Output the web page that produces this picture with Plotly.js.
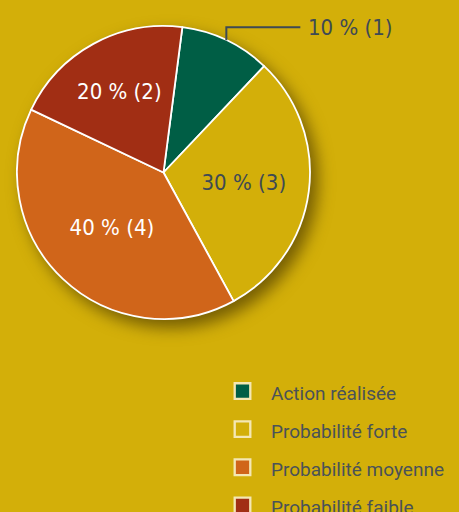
<!DOCTYPE html>
<html>
<head>
<meta charset="utf-8">
<script src="https://cdn.plot.ly/plotly-3.0.1.min.js"></script>
<style>
html,body{margin:0;padding:0;background:#D3AF09;}
#chart{width:459px;height:512px;}
#chart .pielayer .trace:first-child{filter:drop-shadow(7px 8px 8px rgba(55,40,0,0.6));}
#chart .legend .legendpoints{transform-box:fill-box;transform-origin:center;transform:scale(1.3);}
#chart .legend path.legendpie{stroke:#F4E7B4 !important;}
</style>
</head>
<body>
<div id="chart"></div>
<script>
const labels = ["Action réalisée", "Probabilité forte", "Probabilité moyenne", "Probabilité faible"];
const values = [1, 3, 4, 2];
const colors = ["#005E45", "#D3AF09", "#D0651A", "#A12E14"];
const textColors = ["#3E4A54", "#3E4A54", "#FFFFFF", "#FFFFFF"];

const W = 459, H = 512;
const pieBox = {x0: 17, x1: 310, y0: 26, y1: 319};   // pixel box of the pie domain
const rotation = 7.4;
const labelFont = "DejaVu Sans Condensed, sans-serif";

const total = values.reduce((a, b) => a + b, 0);
const texts = values.map(v => Math.round(v / total * 100) + " % (" + v + ")");
const legendLabels = labels.map(l => '<span style="font-size:19px;baseline-shift:2px">' + l + '</span>');

const domain = {x: [pieBox.x0 / W, pieBox.x1 / W], y: [1 - pieBox.y1 / H, 1 - pieBox.y0 / H]};

const slices = {
  type: "pie",
  labels: legendLabels,
  values: values,
  textinfo: "none",
  sort: false,
  direction: "clockwise",
  rotation: rotation,
  marker: {colors: colors, line: {color: "#FFFFFF", width: 1.8}},
  domain: domain,
  hoverinfo: "none"
};

// first slice is labelled outside with a leader line; others inside
const textLayer = {
  type: "pie",
  labels: legendLabels,
  values: values,
  text: texts,
  textinfo: "text",
  textposition: ["none", "inside", "inside", "inside"],
  insidetextorientation: "horizontal",
  sort: false,
  direction: "clockwise",
  rotation: rotation,
  marker: {colors: values.map(() => "rgba(0,0,0,0)"), line: {width: 0}},
  textfont: {family: labelFont, size: 22, color: textColors},
  domain: domain,
  showlegend: false,
  hoverinfo: "none"
};

// leader line from the middle of the first slice's arc
const cx = (pieBox.x0 + pieBox.x1) / 2, cy = (pieBox.y0 + pieBox.y1) / 2;
const r = Math.min(pieBox.x1 - pieBox.x0, pieBox.y1 - pieBox.y0) / 2;
const midAng = (rotation + 360 * (values[0] / 2) / total) * Math.PI / 180;
const px = cx + r * Math.sin(midAng), py = cy - r * Math.cos(midAng);
const elbowY = py - 13, lineEndX = px + 74;
const toPX = x => x / W, toPY = y => 1 - y / H;

const layout = {
  width: W,
  height: H,
  margin: {l: 0, r: 0, t: 0, b: 0, autoexpand: false},
  paper_bgcolor: "#D3AF09",
  plot_bgcolor: "#D3AF09",
  showlegend: true,
  legend: {
    x: 214 / W, xanchor: "left",
    y: 1 - 367 / H, yanchor: "top",
    bgcolor: "rgba(0,0,0,0)",
    itemwidth: 47,
    font: {family: "Roboto, sans-serif", size: 27, color: "#4A5258"},
    traceorder: "normal"
  },
  shapes: [{
    type: "path", xref: "paper", yref: "paper",
    path: "M" + toPX(px) + "," + toPY(py) + " L" + toPX(px) + "," + toPY(elbowY) + " L" + toPX(lineEndX) + "," + toPY(elbowY),
    line: {color: "#3E4A54", width: 2}
  }],
  annotations: [{
    xref: "paper", yref: "paper",
    x: toPX(lineEndX + 6), y: toPY(elbowY),
    xanchor: "left", yanchor: "middle",
    text: texts[0], showarrow: false,
    font: {family: labelFont, size: 22, color: "#3E4A54"}
  }]
};

Plotly.newPlot("chart", [slices, textLayer], layout, {staticPlot: true, displayModeBar: false});
</script>
</body>
</html>
